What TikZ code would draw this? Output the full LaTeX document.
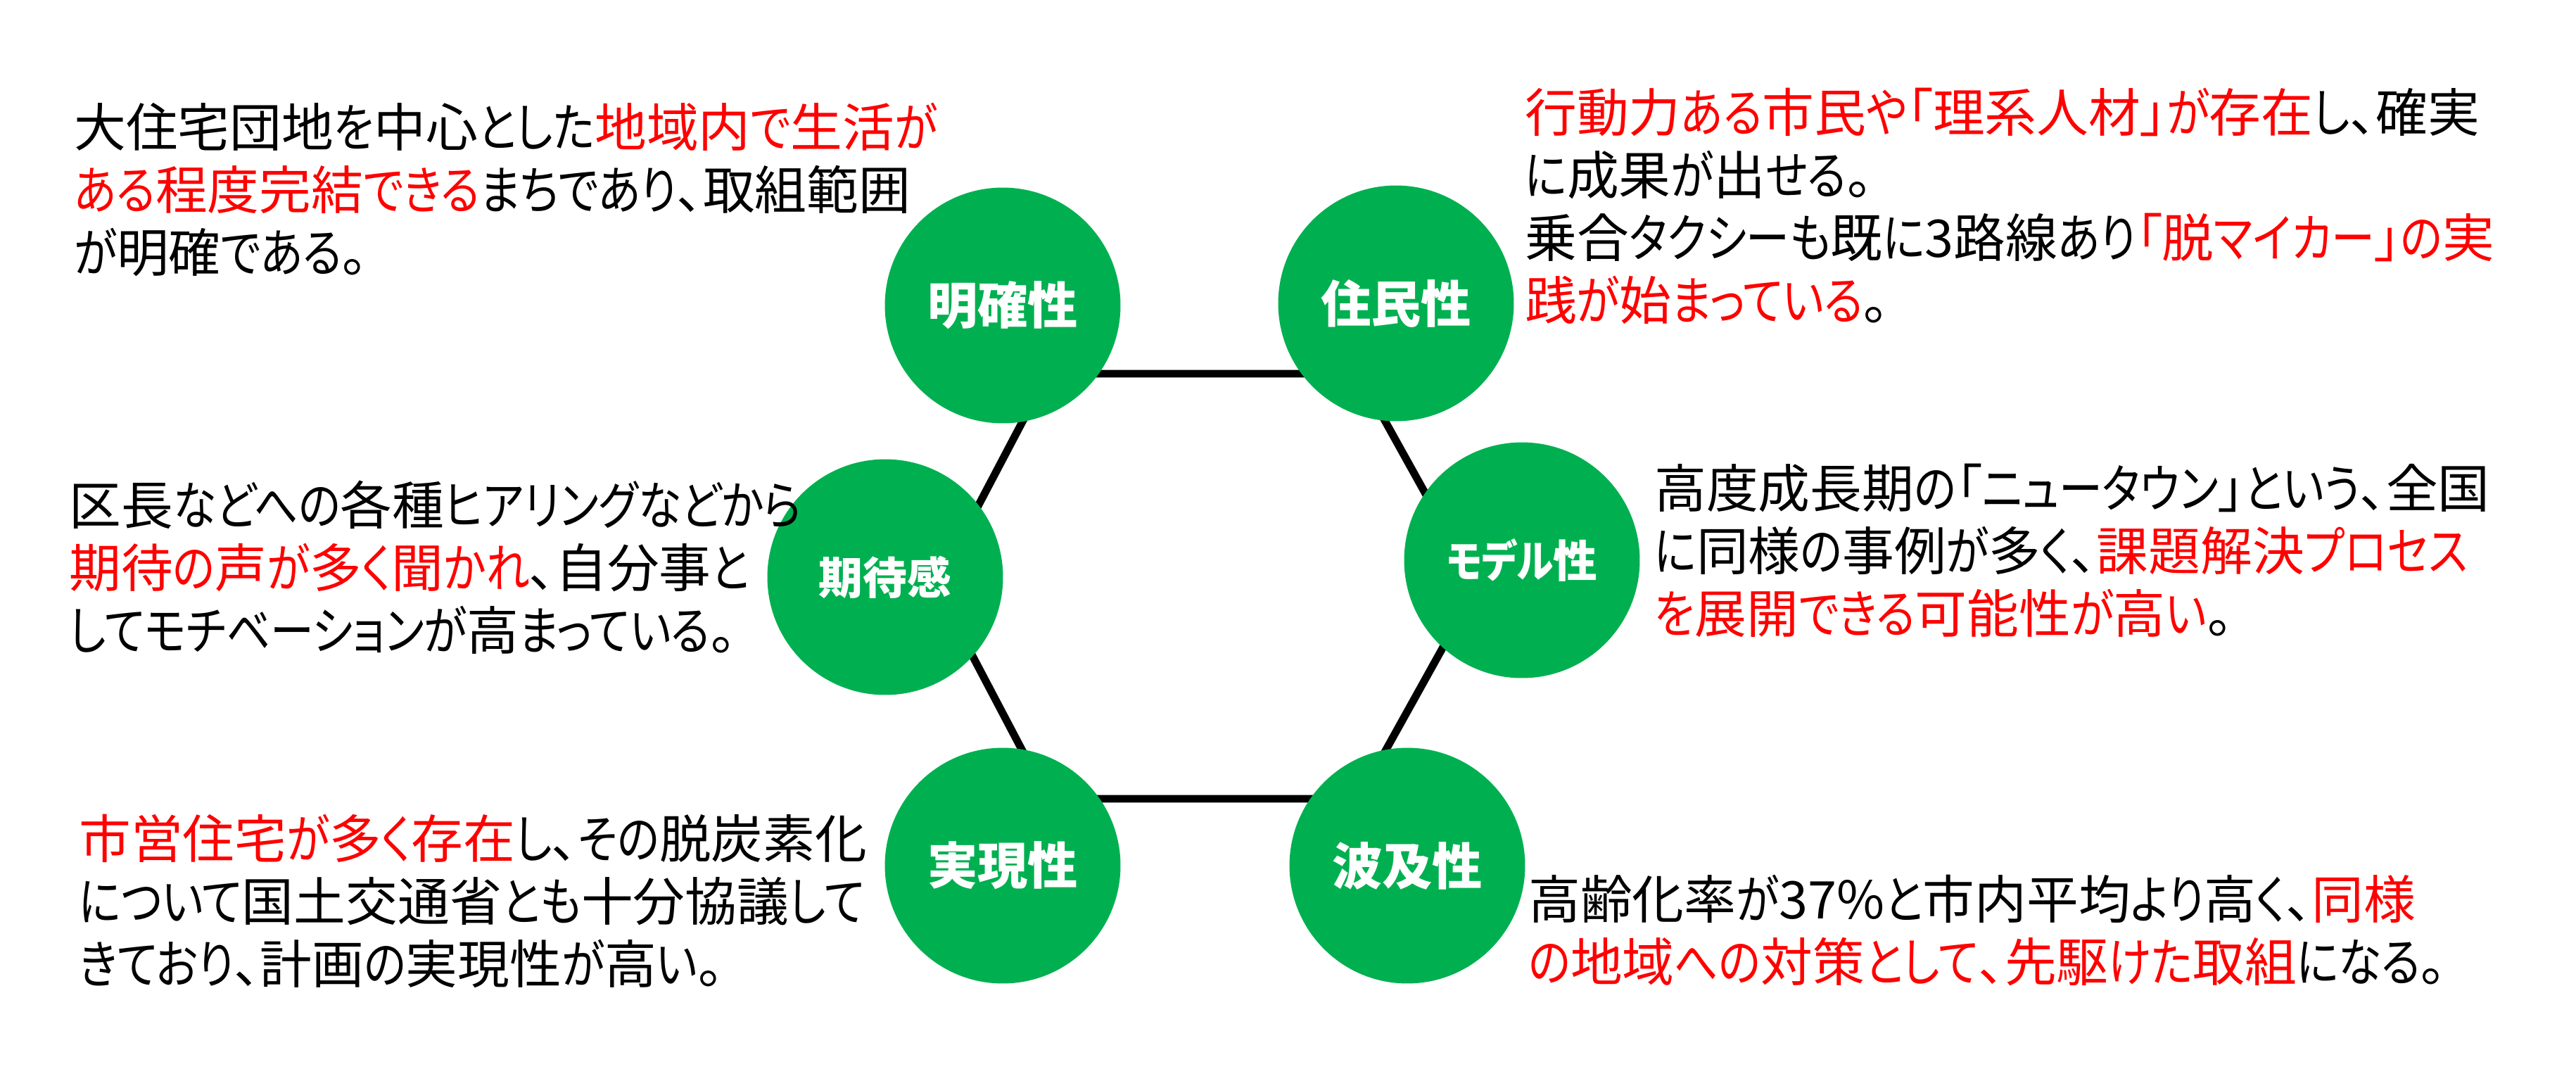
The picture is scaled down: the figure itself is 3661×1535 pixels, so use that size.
\documentclass[tikz,border=0pt]{standalone}
\usepackage{fontspec}
\setmainfont{Noto Sans CJK JP}[RawFeature=+palt]
\newfontfamily\kanafont{Noto Sans CJK JP}[RawFeature=+palt, FakeStretch=0.84]
\usetikzlibrary{positioning}

% narrower kana, as in the reference face
\XeTeXinterchartokenstate=1
\chardef\kanaclass=7
\count255="3041
\loop
    \XeTeXcharclass\count255=\kanaclass
    \ifnum\count255<"30FF \advance\count255 by 1
\repeat
\XeTeXinterchartoks 0 \kanaclass = {\begingroup\kanafont}
\XeTeXinterchartoks 1 \kanaclass = {\begingroup\kanafont}
\XeTeXinterchartoks 2 \kanaclass = {\begingroup\kanafont}
\XeTeXinterchartoks 3 \kanaclass = {\begingroup\kanafont}
\XeTeXinterchartoks 4095 \kanaclass = {\begingroup\kanafont}
\XeTeXinterchartoks \kanaclass 0 = {\endgroup}
\XeTeXinterchartoks \kanaclass 1 = {\endgroup}
\XeTeXinterchartoks \kanaclass 2 = {\endgroup}
\XeTeXinterchartoks \kanaclass 3 = {\endgroup}
\XeTeXinterchartoks \kanaclass 4095 = {\endgroup}

\definecolor{pgreen}{HTML}{00B050}
\definecolor{pred}{HTML}{FF0000}
\newcommand{\hl}[1]{\textcolor{pred}{#1}}

\tikzset{
    pillar/.style={circle, fill=pgreen, minimum size=6.7cm, inner sep=0pt, text=white,
        font=\bfseries\fontsize{40.6}{48}\selectfont},
    note/.style={anchor=north west, align=left, inner sep=0pt,
        font=\fontsize{42}{50.6}\selectfont},
}

\begin{document}
\begin{tikzpicture}[x=0.02cm, y=-0.02cm]
    \useasboundingbox (0,0) rectangle (3661,1535);

    % hexagon behind the circles
    \coordinate (h1) at (1489,531);
    \coordinate (h2) at (1931,531);
    \coordinate (h3) at (2099,833);
    \coordinate (h4) at (1931,1135);
    \coordinate (h5) at (1489,1135);
    \coordinate (h6) at (1330,833);
    \draw[line width=6.2pt, line join=round] (h1) -- (h2) -- (h3) -- (h4) -- (h5) -- (h6) -- cycle;

    % the six circles
    \node[pillar] (clarity) at (1425,434) {明確性};
    \node[pillar] (resident) at (1984,431) {住民性};
    \node[pillar, font=\bfseries\fontsize{35.7}{42}\selectfont] (expect) at (1258,820) {期待感};
    \node[pillar, font=\bfseries\fontsize{35.7}{42}\selectfont] (model) at (2163,796) {モデル性};
    \node[pillar] (feasible) at (1425,1230) {実現性};
    \node[pillar] (spread) at (2000,1230) {波及性};

    % notes beside each circle
    \node[note] (clarityNote) at (105,146) {大住宅団地を中心とした\hl{地域内で生活が}\\
        \hl{ある程度完結できる}まちであり、取組範囲\\
        が明確である。};
    \node[note] (residentNote) at (2167,125) {\hl{行動力ある市民や「理系人材」が存在}し、確実\\
        に成果が出せる。\\
        乗合タクシーも既に3路線あり\hl{「脱マイカー」の実}\\
        \hl{践が始まっている}。};
    \node[note] (expectNote) at (98,683) {区長などへの各種ヒアリングなどから\\
        \hl{期待の声が多く聞かれ}、自分事と\\
        してモチベーションが高まっている。};
    \node[note] (modelNote) at (2351,659) {高度成長期の「ニュータウン」という、全国\\
        に同様の事例が多く、\hl{課題解決プロセス}\\
        \hl{を展開できる可能性が高い}。};
    \node[note] (feasibleNote) at (112,1157) {\hl{市営住宅が多く存在}し、その脱炭素化\\
        について国土交通省とも十分協議して\\
        きており、計画の実現性が高い。};
    \node[note] (spreadNote) at (2172,1243) {高齢化率が37\%と市内平均より高く、\hl{同様}\\
        \hl{の地域への対策として、先駆けた取組}になる。};
\end{tikzpicture}
\end{document}
